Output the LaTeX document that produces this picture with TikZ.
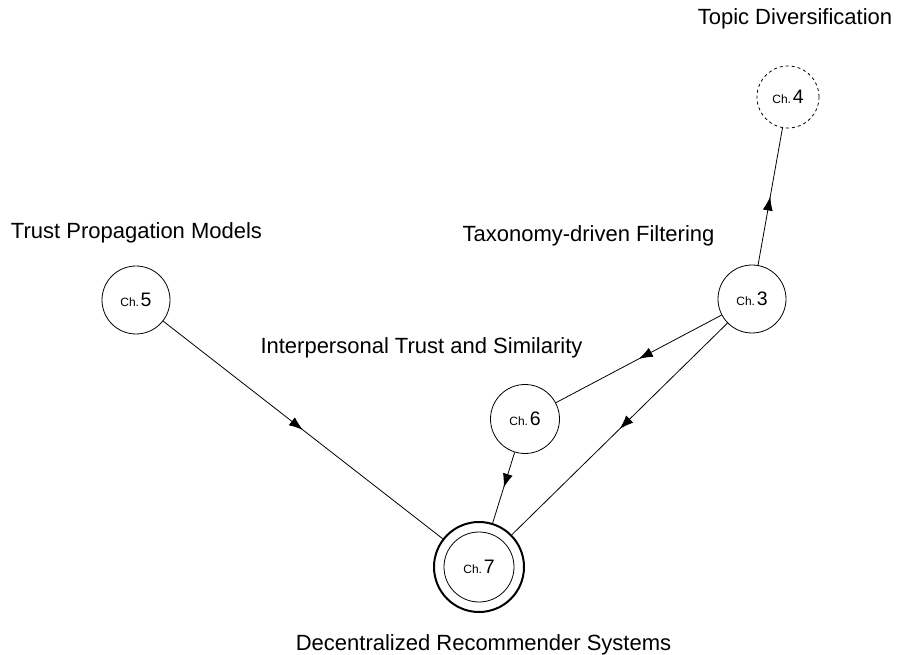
\documentclass[tikz,border=0pt]{standalone}
\usepackage{fontspec}
\setmainfont{Liberation Sans}
\usetikzlibrary{arrows.meta,decorations.markings}
\newcommand\chlabel[1]{{\fontsize{12}{13}\selectfont Ch.}\,{\fontsize{19.5}{20}\selectfont #1}}
\begin{document}
\begin{tikzpicture}[x=1pt,y=-1pt,
 chap/.style={circle,draw,line width=0.8pt,minimum size=68pt,inner sep=0pt},
 lbl/.style={font=\fontsize{22}{26}\selectfont,inner sep=0pt,anchor=base},
 flow/.style={line width=0.8pt,postaction={decorate},decoration={markings,mark=at position 0.5 with {\arrow{Latex[length=14pt,width=10pt]}}}}]
\useasboundingbox (0,0) rectangle (898,655);
\node[chap] (c5) at (136,300) {\chlabel{5}};
\node[chap] (c3) at (752,299) {\chlabel{3}};
\node[chap,dashed,minimum size=62pt] (c4) at (788,97) {\chlabel{4}};
\node[chap,minimum size=69pt] (c6) at (525,419) {\chlabel{6}};
\node[circle,draw,line width=2pt,minimum size=90pt,inner sep=0pt] (c7) at (479,567) {};
\node[chap,minimum size=70pt] (c7i) at (479,567) {\chlabel{7}};
\node[lbl] (t4) at (795,25) {Topic Diversification};
\node[lbl] (t5) at (136.5,238.5) {Trust Propagation Models};
\node[lbl] (t3) at (588.5,242) {Taxonomy-driven Filtering};
\node[lbl] (t6) at (421.5,354) {Interpersonal Trust and Similarity};
\node[lbl] (t7) at (483.5,650) {Decentralized Recommender Systems};
\draw[flow] (c5) -- (c7);
\draw[flow] (c3) -- (c6);
\draw[flow] (c3) -- (c7);
\draw[flow] (c6) -- (c7);
\draw[flow] (c3) -- (c4);
\end{tikzpicture}
\end{document}
